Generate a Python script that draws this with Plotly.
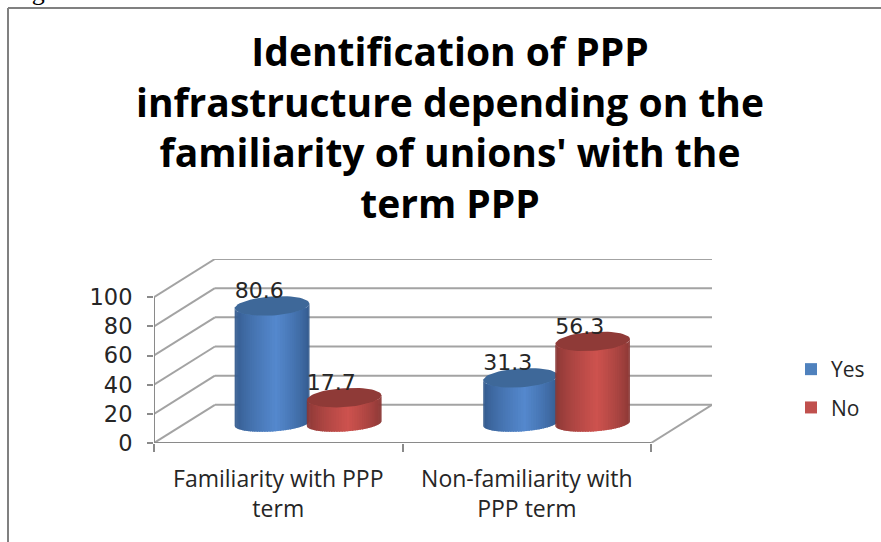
import math
import plotly.graph_objects as go

# ---- data ----
categories = ["Familiarity with PPP<br>term", "Non-familiarity with<br>PPP term"]
yes_values = [80.6, 31.3]
no_values = [17.7, 56.3]
y_ticks = [0, 20, 40, 60, 80, 100]
title_text = ("Identification of PPP<br>infrastructure depending on the<br>"
              "familiarity of unions' with the<br>term PPP")

W, H = 881, 542
X0, X1, Y0, Y1 = 154, 712, 443, 259   # plot box in page pixels
DEPTH_X, DEPTH_Y = 0.245, 26.2        # oblique floor offset in axis units
X_MAX = 2 + DEPTH_X
Y_MAX = 100 + DEPTH_Y
GRID = "#a3a3a3"
AXIS = "#8a8a8a"
TXT = "#262626"

BASE = 13.4       # cylinders stand in the middle of the floor
BAR_W = 0.30
OFFSET = 0.145
SHIFT = 0.12
TOP_B, BOT_B, SHEAR = 6.5, 5.5, 1.6
N = 44


def mix(a, b, f):
    return "#%02x%02x%02x" % tuple(round(a[i] + (b[i] - a[i]) * f) for i in range(3))


def shade(edge, mid, u):
    # u in 0..1 across the cylinder, brightest a little right of centre
    peak = 0.55
    f = u / peak if u < peak else (1 - u) / (1 - peak)
    return mix(edge, mid, min(1, f ** 0.7))


fig = go.Figure()

series = [
    ("Yes", yes_values, -OFFSET, (50, 88, 138), (84, 136, 205), "#3e6899", "#4f81bd"),
    ("No", no_values, OFFSET, (134, 54, 52), (205, 82, 78), "#8f3a37", "#c0504d"),
]

# legend + underlying value bars
for name, vals, off, edge, mid, top, main in series:
    fig.add_trace(go.Bar(
        x=[i + 0.5 + SHIFT + off for i in range(len(vals))], y=vals, base=BASE,
        width=BAR_W * 0.9, name=name, marker=dict(color=main, line_width=0),
        legendgroup=name, hoverinfo="skip"))


def cylinder(cx, val, edge, mid, top):
    a = BAR_W / 2
    ytop = BASE + val
    for k in range(N):
        t1 = math.pi - math.pi * k / N
        t2 = max(0.0, math.pi - math.pi * (k + 1) / N - 0.04)
        ts = [t1 + (t2 - t1) * j / 3 for j in range(4)]
        xs = [cx + a * math.cos(t) for t in ts]
        upper = [ytop + SHEAR * math.cos(t) - TOP_B * math.sin(t) for t in ts]
        lower = [BASE + SHEAR * math.cos(t) - BOT_B * math.sin(t) for t in ts]
        u = (1 - math.cos(math.pi * (k + 0.5) / N)) / 2
        fig.add_trace(go.Scatter(
            x=xs + xs[::-1], y=upper + lower[::-1], mode="lines", fill="toself",
            fillcolor=shade(edge, mid, u), line=dict(width=0),
            showlegend=False, hoverinfo="skip"))
    ts = [2 * math.pi * j / 60 for j in range(61)]
    fig.add_trace(go.Scatter(
        x=[cx + a * math.cos(t) for t in ts],
        y=[ytop + SHEAR * math.cos(t) + TOP_B * math.sin(t) for t in ts],
        mode="lines", fill="toself", fillcolor=top, line=dict(width=0),
        showlegend=False, hoverinfo="skip"))


for i in range(len(categories)):
    for name, vals, off, edge, mid, top, main in series:
        cylinder(i + 0.5 + SHIFT + off, vals[i], edge, mid, top)

# value labels
for name, vals, off, edge, mid, top, main in series:
    fig.add_trace(go.Scatter(
        x=[i + 0.5 + SHIFT + off - 0.052 for i in range(len(vals))],
        y=[BASE + v + 9 for v in vals],
        text=[str(v) for v in vals], mode="text",
        textfont=dict(family="DejaVu Sans", size=22, color=TXT),
        showlegend=False, hoverinfo="skip"))

# oblique grid, walls, floor and axis lines (below the marks)
shapes = []


def seg(x0, y0, x1, y1, color=GRID, width=2):
    shapes.append(dict(type="line", xref="x", yref="y", x0=x0, y0=y0, x1=x1, y1=y1,
                       layer="below", line=dict(color=color, width=width)))


for v in y_ticks:
    seg(0, v, DEPTH_X, v + DEPTH_Y)
    seg(DEPTH_X, v + DEPTH_Y, X_MAX, v + DEPTH_Y)
seg(2, 0, X_MAX, DEPTH_Y)
seg(0, 0, 2, 0, AXIS)
seg(0, 0, 0, 100, AXIS)

# chart frame
for x0, y0, x1, y1 in [(8 / W, 1 - 8 / H, 1, 1 - 8 / H), (8 / W, 1 - 8 / H, 8 / W, 0)]:
    shapes.append(dict(type="line", xref="paper", yref="paper", x0=x0, y0=y0, x1=x1, y1=y1,
                       line=dict(color="#808080", width=2)))

fig.update_layout(
    width=W, height=H, autosize=False,
    margin=dict(l=0, r=0, t=0, b=0, pad=0, autoexpand=False),
    paper_bgcolor="white", plot_bgcolor="rgba(0,0,0,0)",
    barmode="overlay", shapes=shapes,
    title=dict(text=title_text, x=450 / W, xanchor="center", xref="paper",
               y=1 - 66 / H, yanchor="top", yref="paper",
               font=dict(family="Open Sans", size=39, color="#000000", weight="bold")),
    xaxis=dict(domain=[X0 / W, X1 / W], range=[0, X_MAX], showgrid=False, zeroline=False,
               showline=False, tickmode="array", tickvals=[0.5, 1.5], ticktext=categories,
               ticks="", ticklabelstandoff=20,
               tickfont=dict(family="Open Sans", size=23, color=TXT),
               minor=dict(tickmode="linear", tick0=0, dtick=1, ticks="outside", ticklen=8,
                          tickwidth=2, tickcolor=AXIS, showgrid=False)),
    yaxis=dict(domain=[1 - Y0 / H, 1 - Y1 / H], range=[0, Y_MAX], showgrid=False, zeroline=False,
               showline=False, tickmode="array", tickvals=y_ticks, ticks="outside", ticklen=6,
               tickwidth=2, tickcolor=AXIS, ticklabelstandoff=10,
               tickfont=dict(family="DejaVu Sans", size=22.5, color=TXT)),
    legend=dict(x=791 / W, xanchor="left", y=1 - 349 / H, yanchor="top",
                tracegroupgap=8, bgcolor="rgba(0,0,0,0)", itemclick=False,
                font=dict(family="Open Sans", size=21, color=TXT)),
    annotations=[dict(text="Figure 5", xref="paper", yref="paper", x=8 / W, y=1 + 25 / H,
                      xanchor="left", yanchor="top", showarrow=False,
                      font=dict(family="Liberation Serif", size=26, color="#000000"))],
)

fig.write_html("out.html", config=dict(displayModeBar=False),
               post_script="document.body.style.margin='0';")
